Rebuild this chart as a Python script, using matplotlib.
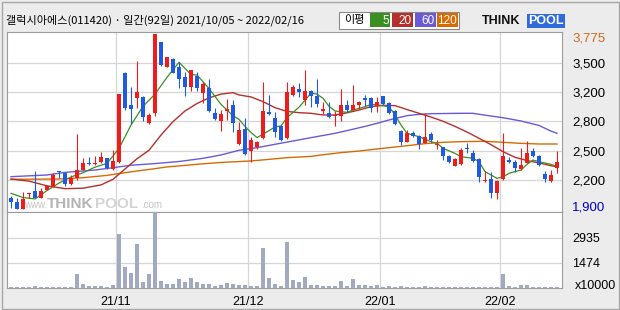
import numpy as np
import matplotlib
matplotlib.use("Agg")
import matplotlib.pyplot as plt
from matplotlib.patches import Rectangle

plt.rcParams['font.family'] = ['Noto Sans CJK KR', 'DejaVu Sans']

TITLE = "갤럭시아에스(011420) · 일간(92일) 2021/10/05 ~ 2022/02/16"

# daily candles, 2021/10/05 .. 2022/02/16 (92 trading days)
opens = [2017, 1974, 1905, 2059, 2095, 2017, 2109, 2141, 2309, 2284,
         2173, 2230, 2323, 2394, 2380, 2401, 2444, 2330, 2408, 3352,
         3014, 3092, 3103, 2825, 2925, 3683, 3423, 3505, 3423, 3316,
         3210, 3324, 3146, 3199, 2925, 2843, 2950, 3014, 2594, 2757,
         2526, 2569, 2665, 2935, 2871, 2789, 2665, 3121, 3185, 3067,
         3163, 3113, 2950, 2925, 2896, 2900, 3014, 2960, 3014, 3085,
         3092, 3000, 3110, 3032, 2950, 2736, 2622, 2718, 2683, 2611,
         2700, 2586, 2565, 2469, 2366, 2380, 2551, 2505, 2433, 2202,
         2223, 2070, 2223, 2426, 2408, 2326, 2391, 2522, 2469, 2277,
         2205, 2344]
highs = [2045, 2017, 2088, 2070, 2312, 2124, 2159, 2284, 2309, 2302,
         2266, 2708, 2444, 2462, 2472, 2515, 2451, 2529, 3131, 3370,
         3210, 3484, 3113, 2925, 3775, 3690, 3530, 3512, 3477, 3370,
         3388, 3370, 3263, 3292, 2978, 2960, 3078, 3067, 2836, 2871,
         2675, 2629, 3256, 3121, 2935, 2800, 3256, 3228, 3245, 3388,
         3174, 3292, 3042, 3042, 2950, 3185, 3067, 3228, 3057, 3121,
         3103, 3103, 3110, 3049, 2960, 2747, 2747, 2736, 2693, 2925,
         2722, 2640, 2569, 2480, 2444, 2558, 2604, 2533, 2444, 2309,
         2302, 2212, 2711, 2462, 2426, 2551, 2629, 2558, 2480, 2309,
         2319, 2522]
lows = [1915, 1900, 1900, 2020, 2024, 2017, 2109, 2141, 2230, 2145,
        2159, 2213, 2316, 2373, 2373, 2394, 2330, 2319, 2391, 2960,
        2807, 2978, 2843, 2807, 2900, 3434, 3420, 3359, 3192, 3113,
        3163, 3163, 3032, 2935, 2854, 2736, 2854, 2729, 2586, 2480,
        2401, 2544, 2651, 2907, 2672, 2629, 2651, 3113, 3103, 3014,
        2996, 2996, 2914, 2878, 2793, 2843, 2942, 2960, 2971, 3007,
        2942, 2935, 3014, 2914, 2800, 2586, 2615, 2675, 2544, 2604,
        2622, 2544, 2426, 2398, 2366, 2373, 2497, 2408, 2195, 2195,
        2017, 2010, 2212, 2391, 2302, 2319, 2391, 2462, 2366, 2195,
        2195, 2284]
closes = [1974, 1905, 2010, 2070, 2024, 2095, 2145, 2266, 2294, 2173,
          2230, 2316, 2394, 2380, 2394, 2455, 2337, 2416, 3131, 2978,
          2967, 3149, 2889, 2907, 3769, 3441, 3530, 3359, 3288, 3210,
          3388, 3199, 3238, 2950, 2864, 2914, 2971, 2818, 2743, 2494,
          2640, 2622, 2950, 2914, 2729, 2640, 3149, 3210, 3156, 3163,
          3113, 3025, 2971, 2889, 2907, 3014, 2960, 3014, 3042, 3071,
          2978, 3049, 3021, 2925, 2807, 2622, 2718, 2686, 2601, 2675,
          2636, 2597, 2473, 2408, 2437, 2533, 2540, 2416, 2248, 2212,
          2070, 2202, 2469, 2401, 2344, 2373, 2505, 2472, 2373, 2223,
          2266, 2408]
# volume in units of 10000 shares
volumes = [59, 59, 59, 59, 117, 59, 59, 59, 59, 59,
           59, 822, 235, 117, 117, 117, 59, 176, 3112, 1233,
           881, 2583, 352, 822, 4400, 411, 235, 235, 528, 352,
           587, 352, 235, 235, 117, 176, 294, 235, 176, 176,
           117, 117, 2348, 587, 235, 117, 2701, 470, 352, 646,
           176, 176, 117, 117, 117, 411, 117, 528, 176, 176,
           117, 176, 59, 117, 59, 117, 59, 59, 59, 117,
           59, 59, 59, 59, 59, 59, 59, 59, 59, 59,
           59, 59, 822, 117, 59, 176, 176, 59, 59, 59,
           59, 59]

# moving averages (day index, price)
ma5_idx = [0, 2, 4, 6, 8, 10, 12, 14, 16, 18, 20, 22, 24, 26, 28, 30, 31, 33,
           35, 37, 38, 39, 40, 41, 43, 44, 45, 46, 48, 50, 51, 52, 53, 54, 56,
           57, 59, 60, 61, 63, 64, 65, 66, 68, 70, 71, 72, 74, 75, 77, 78, 79,
           81, 82, 83, 85, 86, 87, 88, 90, 91]
ma5_val = [2070, 2025, 2010, 2100, 2180, 2245, 2290, 2350, 2390, 2550, 2800,
           3000, 3130, 3310, 3470, 3340, 3334, 3190, 3020, 2900, 2860, 2785,
           2720, 2665, 2740, 2780, 2790, 2880, 2990, 3140, 3130, 3085, 3000,
           2950, 2935, 2960, 2996, 3021, 3014, 2996, 2907, 2800, 2711, 2675,
           2622, 2604, 2551, 2497, 2462, 2444, 2408, 2302, 2230, 2248, 2284,
           2319, 2380, 2426, 2408, 2380, 2355]
ma20_idx = [0, 3, 6, 9, 12, 15, 17, 19, 21, 23, 25, 27, 29, 31, 33, 35, 37,
            38, 40, 42, 44, 46, 48, 50, 52, 54, 56, 58, 60, 62, 64, 66, 68,
            70, 72, 74, 76, 78, 80, 82, 84, 86, 88, 90, 91]
ma20_val = [2223, 2200, 2150, 2120, 2125, 2160, 2220, 2330, 2440, 2530, 2693,
            2836, 2950, 3030, 3090, 3130, 3146, 3121, 3100, 3050, 2985, 2945,
            2932, 2925, 2907, 2907, 2930, 2960, 2996, 3010, 3007, 2965, 2925,
            2885, 2840, 2785, 2725, 2658, 2590, 2515, 2455, 2420, 2395, 2365,
            2355]
ma60_idx = [0, 6, 9, 14, 17, 20, 24, 28, 32, 35, 38, 41, 44, 47, 50, 54, 57,
            59, 61, 63, 66, 68, 70, 75, 77, 79, 82, 85, 88, 90, 91]
ma60_val = [2248, 2266, 2294, 2319, 2344, 2370, 2388, 2410, 2444, 2480, 2530,
            2558, 2594, 2629, 2665, 2711, 2755, 2785, 2818, 2854, 2900, 2914,
            2921, 2925, 2925, 2905, 2878, 2843, 2795, 2735, 2711]
ma120_idx = [0, 8, 12, 16, 20, 23, 26, 31, 35, 40, 43, 46, 50, 52, 55, 58, 61,
             64, 67, 69, 72, 75, 79, 82, 85, 88, 91]
ma120_val = [2220, 2223, 2237, 2262, 2300, 2325, 2352, 2380, 2400, 2416, 2433,
             2451, 2465, 2482, 2505, 2522, 2544, 2565, 2586, 2601, 2615, 2622,
             2626, 2615, 2604, 2597, 2597]

month_start_idx = [18, 40, 62, 82]
month_labels = ["21/11", "21/12", "22/01", "22/02"]

price_ticks = [3462.5, 3150, 2837.5, 2525, 2212.5]
price_tick_labels = ["3,500", "3,200", "2,800", "2,500", "2,200"]
vol_ticks = [1474, 2935]
vol_tick_labels = ["1474", "2935"]

RED = "#EE1C1C"
BLUE = "#1F5BE0"
C5, C20, C60, C120 = "#3A8F23", "#B5302A", "#6A5AD8", "#D86A00"
GRID = "#D6D6D6"
EDGE = "#9C9C9C"
NUMFONT = ["Liberation Sans", "DejaVu Sans"]

W, H = 620, 310


def fx(px):
    return px / W


def fy(py):
    return 1 - py / H


fig = plt.figure(figsize=(6.2, 3.1), dpi=100, facecolor="#ECECEC")
fig.patches.append(Rectangle((fx(1.5), fy(308.5)), fx(617), 306.5 / H,
                             transform=fig.transFigure, fill=False,
                             edgecolor="#A8A8A8", lw=1))

ax = fig.add_axes([fx(7), fy(212), fx(555), 180 / H])
axv = fig.add_axes([fx(7), fy(288), fx(555), 76 / H], sharex=ax)

opens_a = np.array(opens, float)
closes_a = np.array(closes, float)
x = np.arange(len(closes))
colors = np.where(closes_a >= opens_a, RED, BLUE)
body_bottom = np.minimum(opens_a, closes_a)
body_h = np.maximum(np.abs(closes_a - opens_a), 10)

# watermark (drawn under the candles)
wm = dict(transform=fig.transFigure, family=NUMFONT, va="baseline", zorder=0)
ax.text(fx(24), fy(208), "www.", fontsize=7, color="#C4C4C4", **wm)
ax.text(fx(47), fy(208), "THINK", fontsize=11, fontweight="bold",
        color="#B4B4B4", **wm)
ax.text(fx(95), fy(208), "POOL", fontsize=11, fontweight="bold",
        color="#D4D4D4", **wm)
ax.text(fx(141), fy(208), ".com", fontsize=7, color="#C4C4C4", **wm)

ax.plot(ma120_idx, ma120_val, color=C120, lw=1.0, zorder=2)
ax.plot(ma60_idx, ma60_val, color=C60, lw=1.0, zorder=2)
ax.plot(ma20_idx, ma20_val, color=C20, lw=1.0, zorder=2)
ax.plot(ma5_idx, ma5_val, color=C5, lw=0.9, zorder=2)

ax.vlines(x, lows, highs, colors=colors, lw=0.8, zorder=3)
ax.bar(x, body_h, bottom=body_bottom, width=0.75, color=colors,
       linewidth=0, zorder=4)

ax.set_xlim(-0.67, 91.83)
ax.set_ylim(1870.6, 3793.7)
ax.set_yticks(price_ticks)
ax.set_yticklabels(price_tick_labels)
month_pos = [i - 0.5 for i in month_start_idx]
ax.set_xticks(month_pos)
ax.tick_params(axis="x", length=0, labelbottom=False)
ax.yaxis.tick_right()
ax.tick_params(axis="y", length=0, pad=7.5, labelsize=9.5)
for lab in ax.get_yticklabels():
    lab.set_family(NUMFONT)
ax.grid(True, color=GRID, lw=0.9, zorder=0)
ax.set_axisbelow(True)
for s in ax.spines.values():
    s.set_color(EDGE)

# max / min markers on the price axis
ax.annotate(f"{max(highs):,}", xy=(1.0, max(highs)),
            xycoords=("axes fraction", "data"), xytext=(7.5, -3.5),
            textcoords="offset points", va="center", ha="left",
            fontsize=9.5, color="#D2691E", family=NUMFONT)
ax.annotate(f"{min(lows):,}", xy=(1.0, min(lows)),
            xycoords=("axes fraction", "data"), xytext=(7.5, 1.5),
            textcoords="offset points", va="center", ha="left",
            fontsize=9.5, color="#0000C8", family=NUMFONT)

axv.bar(x, volumes, width=0.8, color="#A2AAC2", linewidth=0, zorder=3)
axv.set_ylim(0, 4420)
axv.set_yticks(vol_ticks)
axv.set_yticklabels(vol_tick_labels)
axv.yaxis.tick_right()
axv.tick_params(axis="y", length=0, pad=7.5, labelsize=9)
axv.set_xticks(month_pos)
axv.set_xticklabels(month_labels)
axv.tick_params(axis="x", length=0, pad=6, labelsize=9)
for lab in axv.get_yticklabels() + axv.get_xticklabels():
    lab.set_family(NUMFONT)
axv.grid(True, color=GRID, lw=0.9, zorder=0)
axv.set_axisbelow(True)
for s in axv.spines.values():
    s.set_color(EDGE)
fig.text(fx(575), fy(286), "x10000", fontsize=9, family=NUMFONT,
         va="center", ha="left")

# title bar
fig.text(fx(6), fy(20), TITLE, fontsize=8, va="center", ha="left")

# legend box
fig.patches.append(Rectangle((fx(339), fy(29)), fx(120), 17 / H,
                             transform=fig.transFigure, facecolor="white",
                             edgecolor="#8A8A8A", lw=0.8))
fig.text(fx(344), fy(20.5), "이평", fontsize=8, va="center", ha="left")
legend_boxes = [("5", C5, 370, 20), ("20", C20, 392, 21),
                ("60", C60, 415, 21), ("120", C120, 437, 21)]
for label, col, x0, wd in legend_boxes:
    fig.patches.append(Rectangle((fx(x0), fy(27)), fx(wd), 13.5 / H,
                                 transform=fig.transFigure, facecolor=col,
                                 edgecolor="none"))
    fig.text(fx(x0 + wd - 1), fy(20.5), label, fontsize=8.5, color="white",
             family=NUMFONT, va="center", ha="right")

# logo
fig.text(fx(482), fy(21), "THINK", fontsize=9, fontweight="bold",
         family=NUMFONT, va="center", ha="left", color="#111111")
fig.text(fx(528), fy(21), "POOL", fontsize=9, fontweight="bold",
         family=NUMFONT, va="center", ha="left", color="white",
         bbox=dict(boxstyle="square,pad=0.08", facecolor="#2F6BDB",
                   edgecolor="none"))

fig.savefig("out.png", dpi=100, facecolor=fig.get_facecolor())
